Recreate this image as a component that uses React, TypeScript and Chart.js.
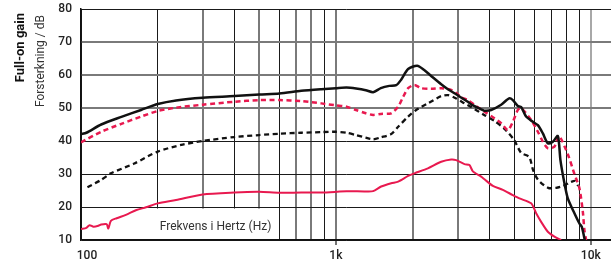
import { useEffect, useRef } from 'react';
import { Chart, registerables } from 'chart.js';

Chart.register(...registerables);

// Full-on gain, black solid
const FULL_FREQ = [100, 105, 120, 144, 172, 200, 236, 300, 400, 500, 600, 731, 876, 1000, 1100, 1200, 1310, 1400, 1500, 1620, 1724, 1800, 1920, 2084, 2220, 2365, 2588, 2760, 2982, 3294, 3393, 3714, 3816, 4064, 4449, 4782, 4944, 5172, 5329, 5575, 5924, 6198, 6484, 6783, 7096, 7424, 7600, 7836, 8124, 8624, 9022, 9220, 9498];
const FULL_DB = [42.1, 42.5, 45, 47.3, 49.4, 51.2, 52.3, 53.1, 53.6, 54.1, 54.4, 55.2, 55.7, 56, 56.2, 55.9, 55.4, 54.8, 56, 56.7, 56.9, 58.5, 61.8, 62.8, 61.5, 59.7, 57.2, 55.6, 54, 51.9, 51.1, 49.6, 49.2, 49.4, 51, 52.9, 52.4, 50.6, 50.3, 47.4, 45.8, 44.8, 42.3, 39.3, 39.8, 41.5, 34.2, 28.2, 22.6, 18.1, 15, 14, 9.5];

// Black dashed
const BDASH_FREQ = [106, 120, 131, 162, 200, 247, 300, 400, 500, 600, 731, 876, 1000, 1100, 1200, 1310, 1400, 1500, 1648, 1755, 1920, 2065, 2295, 2588, 2757, 2963, 3194, 3393, 3816, 4188, 4600, 5003, 5329, 5729, 5936, 6215, 6800, 7311, 7788, 8370, 8677, 8917];
const BDASH_DB = [26, 28.2, 30.2, 33.2, 36.8, 38.8, 40, 41.2, 41.8, 42.2, 42.5, 42.7, 42.8, 42.5, 41.8, 41, 40.5, 41.1, 42.1, 44.3, 47.4, 49.4, 51.4, 53.6, 53.9, 52.9, 51.4, 50.3, 47.9, 46.1, 43.6, 40.3, 36.4, 35.2, 31.2, 28.2, 25.8, 25.8, 26.4, 27.6, 27.9, 26.4];

// Red dashed
const RDASH_FREQ = [100, 120, 144, 172, 200, 236, 300, 400, 500, 600, 731, 876, 1000, 1100, 1200, 1310, 1400, 1500, 1648, 1755, 1836, 1920, 2033, 2160, 2365, 2588, 2833, 2982, 3100, 3294, 3496, 3826, 4188, 4449, 4726, 4944, 5172, 5329, 5834, 6198, 6484, 6783, 7200, 7500, 8124, 8624, 9022, 9303, 9438, 9585];
const RDASH_DB = [39.6, 42.8, 45.2, 47.4, 49.1, 50.1, 51, 51.9, 52.4, 52.4, 52.1, 51.4, 50.8, 50.4, 49.4, 48.4, 47.9, 48.2, 48.4, 50.4, 53.4, 56, 57, 56, 55.8, 56, 55.5, 54.4, 53.2, 52.4, 50.9, 48.9, 46.9, 45.4, 43.3, 45.8, 49.4, 50, 46.4, 42.8, 39.8, 37.8, 38.3, 41.5, 36, 30, 25.7, 18.6, 13, 10];

// Red solid
const RSOLID_FREQ = [100, 105, 108, 112, 117, 120, 126, 128, 131, 138, 150, 165, 180, 200, 236, 300, 400, 500, 600, 731, 876, 1000, 1100, 1310, 1400, 1505, 1648, 1755, 1920, 2033, 2295, 2588, 2833, 2963, 3194, 3342, 3446, 3714, 3826, 4128, 4518, 4944, 5248, 5834, 6104, 6385, 6783, 7200, 7647];
const RSOLID_DB = [13.3, 13.7, 14.5, 14, 14.3, 14.7, 14.8, 13.5, 15.8, 16.6, 17.6, 19.1, 19.9, 21.1, 22.1, 23.8, 24.4, 24.6, 24.3, 24.4, 24.4, 24.6, 24.8, 24.7, 24.8, 26.2, 27.2, 27.7, 29.4, 30.2, 31.7, 33.7, 34.4, 34.2, 33, 32.7, 30.8, 29.2, 28.4, 26.4, 25.2, 23.6, 22.6, 21.1, 18.1, 15.5, 12.5, 11, 10];

const X_TICKS = [100, 200, 300, 400, 500, 600, 700, 800, 900, 1000, 2000, 3000, 4000, 5000, 6000, 7000, 8000, 9000, 10000];
const X_LABELS: Record<number, string> = { 100: '    100', 1000: '1k', 10000: '10k' };
const X_GRAY = [300, 500, 700, 800, 1000, 2000, 3000];
const Y_GRAY = [50, 60, 70];

const TITLE_BOLD = 'Full-on gain';
const TITLE_NORMAL = 'Forsterkning / dB';
const X_TITLE = 'Frekvens i Hertz (Hz)';

const RED = '#e8194f';
const BLACK = '#111111';

const toPoints = (f: number[], v: number[]) => f.map((x, i) => ({ x, y: v[i] }));

const overlay = {
  id: 'overlay',
  beforeDatasetsDraw(chart: any) {
    const { ctx, chartArea, scales } = chart;
    const x = scales.x;
    const y = scales.y;
    const top = y.getPixelForValue(20) + 1.5;
    const left = chartArea.left + 1;
    const right = x.getPixelForValue(590);
    ctx.save();
    ctx.fillStyle = '#ffffff';
    ctx.fillRect(left, top, right - left, chartArea.bottom - 1 - top);
    ctx.fillStyle = '#333333';
    ctx.font = '12px Roboto';
    ctx.textAlign = 'left';
    ctx.textBaseline = 'middle';
    ctx.fillText(X_TITLE, x.getPixelForValue(200) + 2, y.getPixelForValue(14));
    ctx.restore();
  },
  afterDraw(chart: any) {
    const { ctx, chartArea } = chart;
    ctx.save();
    ctx.fillStyle = '#111111';
    ctx.textAlign = 'right';
    ctx.textBaseline = 'middle';
    ctx.translate(21, chartArea.top + 4);
    ctx.rotate(-Math.PI / 2);
    ctx.font = 'bold 13px Roboto';
    ctx.fillText(TITLE_BOLD, 0, 0);
    ctx.restore();
    ctx.save();
    ctx.fillStyle = '#333333';
    ctx.textAlign = 'right';
    ctx.textBaseline = 'middle';
    ctx.translate(41, chartArea.top + 6);
    ctx.rotate(-Math.PI / 2);
    ctx.font = '12px Roboto';
    ctx.fillText(TITLE_NORMAL, 0, 0);
    ctx.restore();
  },
};

export default function App() {
  const ref = useRef<HTMLCanvasElement | null>(null);
  useEffect(() => {
    document.body.style.margin = '0';
    if (!ref.current) return;
    const chart = new Chart(ref.current, {
      type: 'line',
      data: {
        datasets: [
          { data: toPoints(FULL_FREQ, FULL_DB), borderColor: BLACK, borderWidth: 2.5 },
          { data: toPoints(RDASH_FREQ, RDASH_DB), borderColor: RED, borderWidth: 2.5, borderDash: [5, 3.5] },
          { data: toPoints(BDASH_FREQ, BDASH_DB), borderColor: BLACK, borderWidth: 2.3, borderDash: [5, 3.5] },
          { data: toPoints(RSOLID_FREQ, RSOLID_DB), borderColor: RED, borderWidth: 2 },
        ] as any,
      },
      options: {
        animation: false,
        responsive: false,
        devicePixelRatio: 1,
        layout: { padding: { top: 9, right: 0, left: 0, bottom: 0 } },
        elements: { point: { radius: 0 }, line: { tension: 0.25, fill: false } },
        plugins: { legend: { display: false }, tooltip: { enabled: false } },
        scales: {
          x: {
            type: 'logarithmic',
            min: 100,
            max: 12000,
            afterBuildTicks: (s: any) => {
              s.ticks = X_TICKS.map((value) => ({ value }));
            },
            afterFit: (s: any) => {
              s.height = 29;
              s.paddingLeft = 0;
              s.paddingRight = 0;
            },
            ticks: {
              autoSkip: false,
              maxRotation: 0,
              padding: 4,
              color: '#222222',
              font: { family: 'Roboto', size: 12, weight: 500 },
              callback: (v: any) => X_LABELS[Number(v)] ?? '',
            },
            grid: {
              drawTicks: true,
              tickLength: 5,
              color: (c: any) => (c.tick && c.tick.value === 10000 ? '#a8a8a8' : X_GRAY.includes(c.tick?.value) ? '#7a7a7a' : '#1a1a1a'),
              lineWidth: (c: any) => (X_GRAY.includes(c.tick?.value) || c.tick?.value === 10000 ? 2 : 1),
              tickColor: (c: any) => (c.tick && (c.tick.value === 1000 || c.tick.value === 10000) ? '#444444' : 'rgba(0,0,0,0)'),
              tickWidth: 1.5,
            },
            border: { color: '#111111', width: 1.5 },
          },
          y: {
            type: 'linear',
            min: 10,
            max: 80,
            afterFit: (s: any) => {
              s.width = 81;
              s.paddingTop = 0;
              s.paddingBottom = 0;
            },
            ticks: {
              stepSize: 10,
              padding: 9,
              color: '#222222',
              font: { family: 'Roboto', size: 12, weight: 500 },
            },
            grid: {
              drawTicks: false,
              color: (c: any) => (Y_GRAY.includes(c.tick?.value) ? '#7a7a7a' : '#1a1a1a'),
              lineWidth: (c: any) => (Y_GRAY.includes(c.tick?.value) ? 2 : 1),
            },
            border: { color: '#111111', width: 1.5 },
          },
        },
      } as any,
      plugins: [overlay],
    });
    return () => chart.destroy();
  }, []);
  return <canvas ref={ref} width={611} height={269} style={{ display: 'block', width: 611, height: 269 }} />;
}
